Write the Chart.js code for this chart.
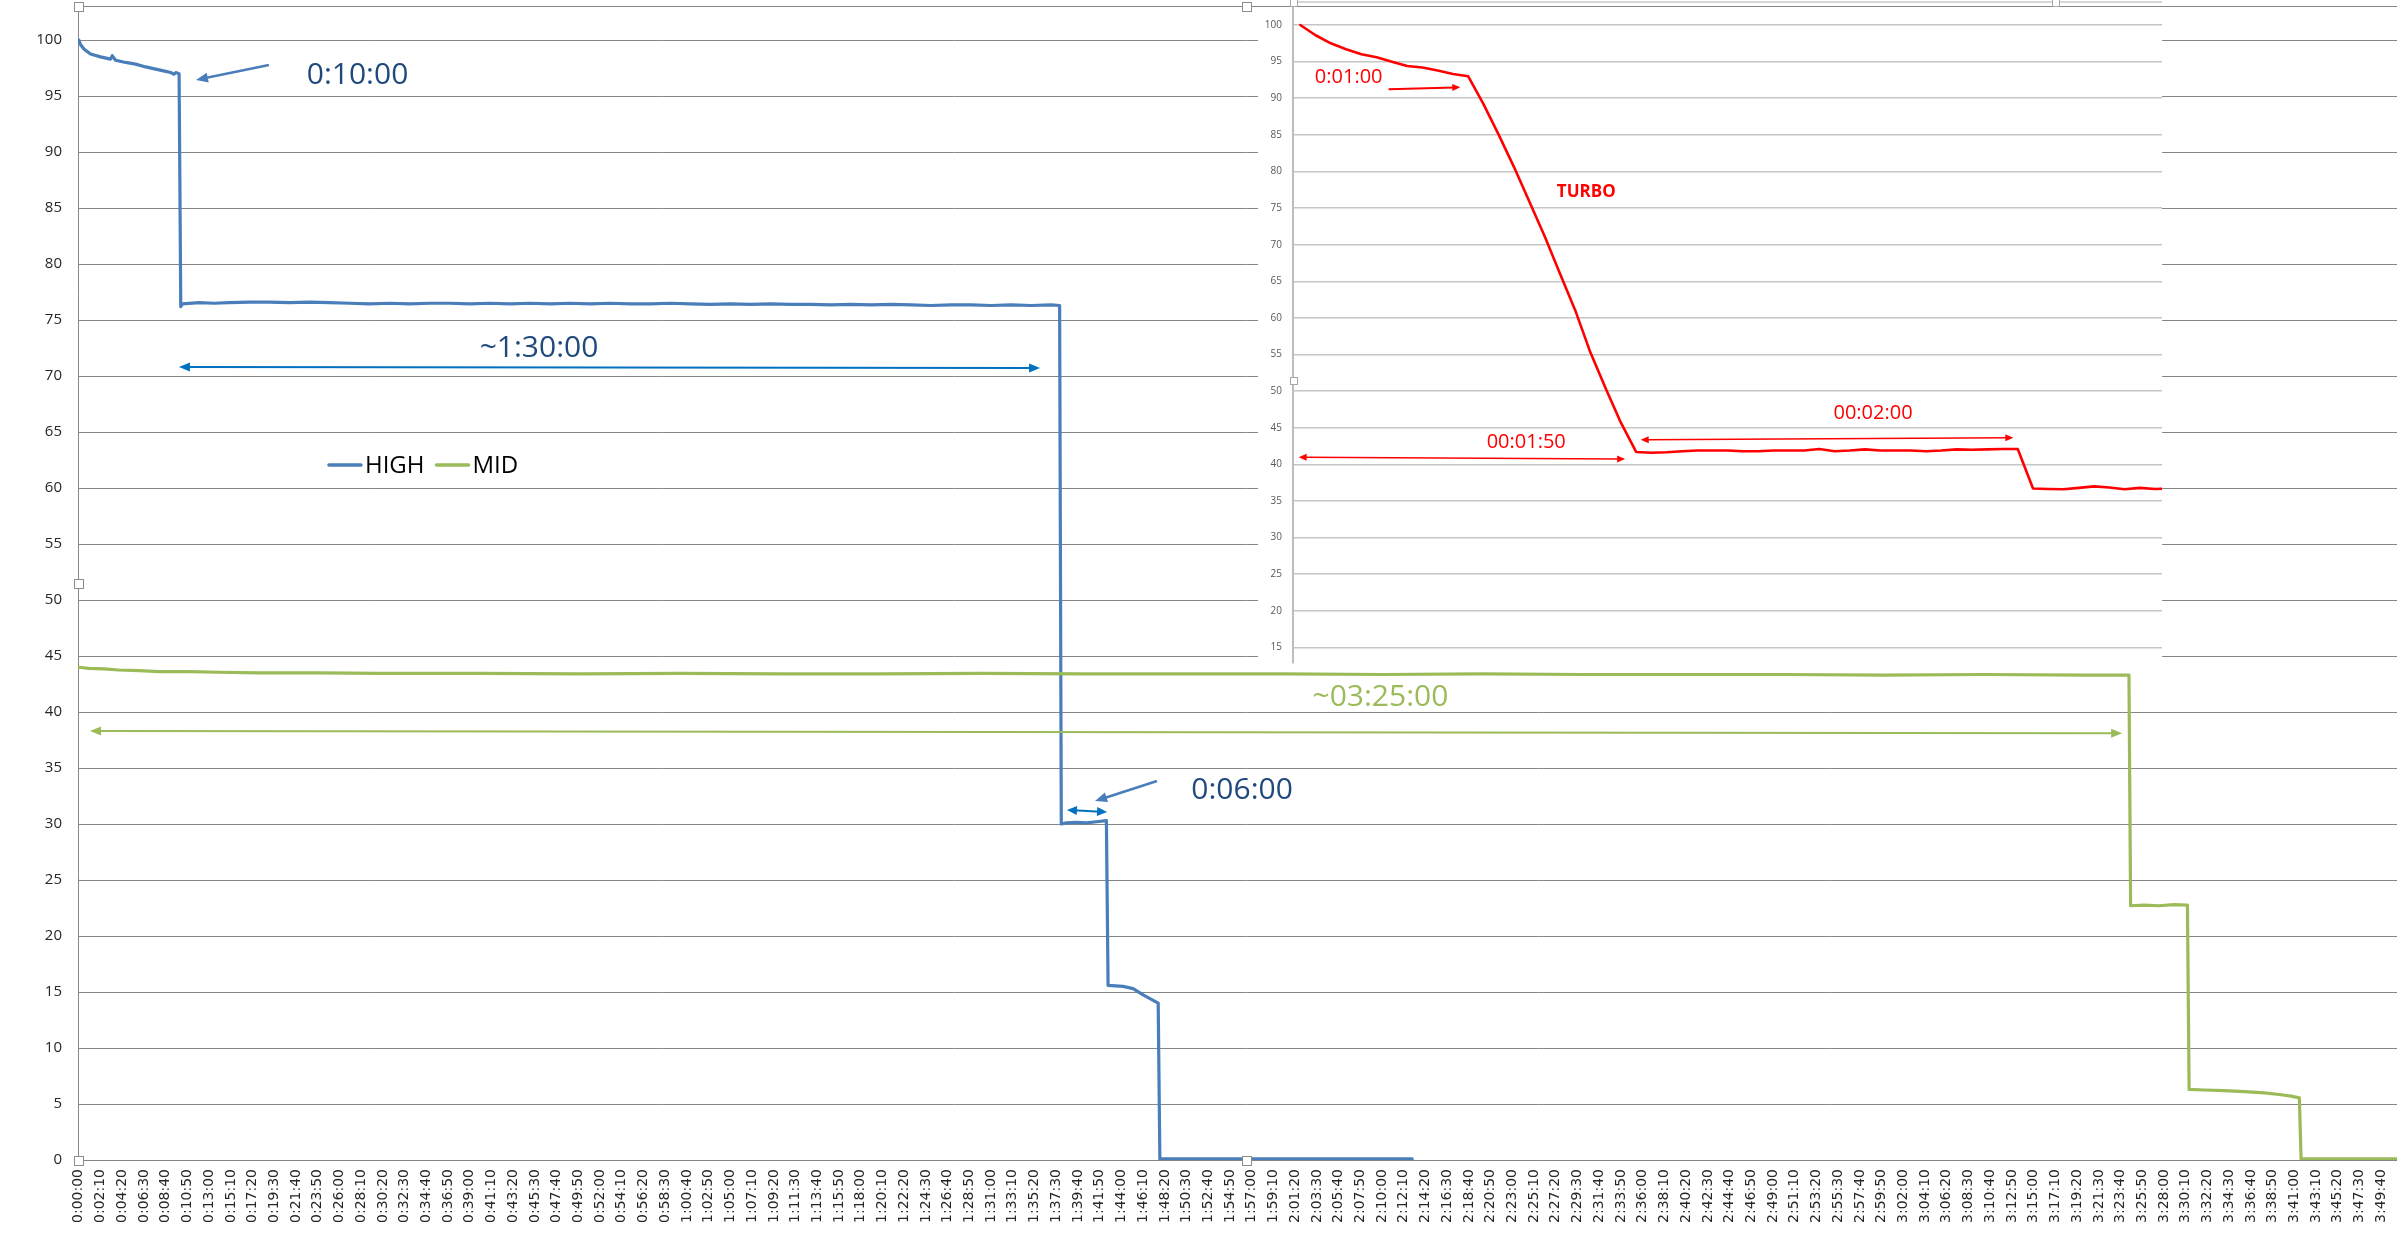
<!DOCTYPE html>
<html><head><meta charset="utf-8">
<script src="https://cdn.jsdelivr.net/npm/chart.js@4.4.1/dist/chart.umd.min.js"></script>
<style>
html,body{margin:0;padding:0;background:#fff;overflow:hidden;width:2397px;height:1241px;position:relative;}
#main{position:absolute;left:0;top:0;display:block;}
#inset{position:absolute;left:1258px;top:0;display:block;}
</style></head><body>
<canvas id="main" width="2414" height="1241"></canvas>
<canvas id="inset" width="904" height="665"></canvas>
<script>
// ---------- DATA ----------
const seriesNames = ['HIGH', 'MID'];
const xTickLabels = ['0:00:00','0:02:10','0:04:20','0:06:30','0:08:40','0:10:50','0:13:00','0:15:10','0:17:20','0:19:30',
'0:21:40','0:23:50','0:26:00','0:28:10','0:30:20','0:32:30','0:34:40','0:36:50','0:39:00','0:41:10',
'0:43:20','0:45:30','0:47:40','0:49:50','0:52:00','0:54:10','0:56:20','0:58:30','1:00:40','1:02:50',
'1:05:00','1:07:10','1:09:20','1:11:30','1:13:40','1:15:50','1:18:00','1:20:10','1:22:20','1:24:30',
'1:26:40','1:28:50','1:31:00','1:33:10','1:35:20','1:37:30','1:39:40','1:41:50','1:44:00','1:46:10',
'1:48:20','1:50:30','1:52:40','1:54:50','1:57:00','1:59:10','2:01:20','2:03:30','2:05:40','2:07:50',
'2:10:00','2:12:10','2:14:20','2:16:30','2:18:40','2:20:50','2:23:00','2:25:10','2:27:20','2:29:30',
'2:31:40','2:33:50','2:36:00','2:38:10','2:40:20','2:42:30','2:44:40','2:46:50','2:49:00','2:51:10',
'2:53:20','2:55:30','2:57:40','2:59:50','3:02:00','3:04:10','3:06:20','3:08:30','3:10:40','3:12:50',
'3:15:00','3:17:10','3:19:20','3:21:30','3:23:40','3:25:50','3:28:00','3:30:10','3:32:20','3:34:30',
'3:36:40','3:38:50','3:41:00','3:43:10','3:45:20','3:47:30','3:49:40','3:51:50'];
const yTicks = [0,5,10,15,20,25,30,35,40,45,50,55,60,65,70,75,80,85,90,95,100];

const highTimes = ['0:00:00','0:00:10','0:00:30','0:01:10','0:02:10','0:03:10','0:03:20','0:03:40','0:04:40','0:05:40',
'0:06:40','0:07:40','0:08:40','0:09:10','0:09:30','0:09:40','0:10:00','0:10:10','0:10:20','0:12:00',
'0:13:30','0:15:00','0:17:00','0:19:00','0:21:00','0:23:00','0:25:00','0:27:00','0:29:00','0:31:00',
'0:33:00','0:35:00','0:37:00','0:39:00','0:41:00','0:43:00','0:45:00','0:47:00','0:49:00','0:51:00',
'0:53:00','0:55:00','0:57:00','0:59:00','1:01:00','1:03:00','1:05:00','1:07:00','1:09:00','1:11:00',
'1:13:00','1:15:00','1:17:00','1:19:00','1:21:00','1:23:00','1:25:00','1:27:00','1:29:00','1:31:00',
'1:33:00','1:35:00','1:37:00','1:37:50','1:38:00','1:38:30','1:39:30','1:40:30','1:41:30','1:42:30',
'1:42:40','1:44:10','1:45:10','1:46:10','1:47:40','1:47:50','2:13:00'];
const highValues = [100,99.6,99.2,98.75,98.5,98.3,98.6,98.2,98.0,97.85,
97.6,97.4,97.2,97.1,96.95,97.1,97.0,76.2,76.45,76.55,
76.5,76.55,76.6,76.6,76.55,76.6,76.55,76.5,76.45,76.5,
76.45,76.5,76.5,76.45,76.5,76.45,76.5,76.45,76.5,76.45,
76.5,76.45,76.45,76.5,76.45,76.4,76.45,76.4,76.45,76.4,
76.4,76.35,76.4,76.35,76.4,76.35,76.3,76.35,76.35,76.3,
76.35,76.3,76.35,76.3,30.0,30.1,30.15,30.1,30.2,30.3,
15.6,15.5,15.3,14.75,14.0,0.1,0.1];

const midTimes = ['0:00:00','0:01:00','0:02:30','0:04:00','0:06:00','0:08:00','0:11:00','0:14:00','0:18:00','0:24:00',
'0:30:00','0:40:00','0:50:00','1:00:00','1:10:00','1:20:00','1:30:00','1:40:00','1:50:00','2:00:00',
'2:10:00','2:20:00','2:30:00','2:40:00','2:50:00','3:00:00','3:10:00','3:20:00','3:24:30','3:24:40',
'3:26:00','3:27:30','3:29:00','3:30:20','3:30:30','3:32:00','3:34:00','3:36:00','3:38:00','3:39:30',
'3:40:40','3:41:30','3:41:40','3:53:00'];
const midValues = [44.0,43.9,43.85,43.75,43.7,43.6,43.6,43.55,43.5,43.5,
43.45,43.45,43.4,43.45,43.4,43.4,43.45,43.4,43.4,43.4,
43.35,43.4,43.35,43.35,43.35,43.3,43.35,43.3,43.3,22.7,
22.75,22.7,22.8,22.75,6.3,6.25,6.2,6.1,6.0,5.85,
5.7,5.55,0.1,0.1];

// inset (TURBO) series, one value per sample
const insetName = 'TURBO';
const insetValues = [100,98.6,97.5,96.7,96.0,95.6,95.0,94.4,94.2,93.8,93.3,93.0,
89.2,85.0,80.6,75.9,71.2,66.1,61.1,55.3,50.4,45.7,41.7,
41.6,41.65,41.8,41.9,41.9,41.9,41.8,41.8,41.9,41.9,41.9,42.1,41.8,41.9,42.05,41.9,41.9,41.9,41.8,41.9,42.05,42.0,42.05,42.1,42.1,
36.7,36.65,36.6,36.8,37.0,36.85,36.6,36.8,36.65,36.7];
const insetYTicks = [15,20,25,30,35,40,45,50,55,60,65,70,75,80,85,90,95,100];

// ---------- ANNOTATIONS (in data coordinates) ----------
const mainAnnotations = [
  {kind:'text', text:'0:10:00', x:1668, y:96.81, color:'#1f497d', font:'30px "Open Sans"'},
  {kind:'arrow', x1:1138, y1:97.77, x2:701, y2:96.43, color:'#4a7ebb', w:2.5, start:false, end:true, hl:12, hw:5},
  {kind:'text', text:'~1:30:00', x:2754, y:72.45, color:'#1f497d', font:'30px "Open Sans"'},
  {kind:'arrow', x1:599, y1:70.8, x2:5753, y2:70.71, color:'#0070c0', w:2, start:true, end:true, hl:11, hw:4.5},
  {kind:'text', text:'0:06:00', x:6962, y:33.04, color:'#1f497d', font:'30px "Open Sans"'},
  {kind:'arrow', x1:6453, y1:33.84, x2:6082, y2:32.05, color:'#4a7ebb', w:2.5, start:false, end:true, hl:12, hw:5},
  {kind:'arrow', x1:5914, y1:31.25, x2:6154, y2:31.07, color:'#0070c0', w:2, start:true, end:true, hl:10, hw:4.5},
  {kind:'text', text:'~03:25:00', x:7790, y:41.34, color:'#9bbb59', font:'30px "Open Sans"'},
  {kind:'arrow', x1:67, y1:38.3, x2:12229, y2:38.1, color:'#9bbb59', w:2, start:true, end:true, hl:11, hw:4.5}
];
const legendAt = {x:1491, y:62.05};
const insetAnnotations = [
  {kind:'text', text:'0:01:00', x:3.17, y:92.86, color:'#ff0000', font:'20px "Open Sans"'},
  {kind:'arrow', x1:5.78, y1:91.22, x2:10.48, y2:91.49, color:'#ff0000', w:2, start:false, end:true, hl:8, hw:3.5},
  {kind:'text', text:'TURBO', x:18.73, y:77.24, color:'#ff0000', font:'bold 17px "Open Sans"'},
  {kind:'text', text:'00:01:50', x:14.8, y:42.97, color:'#ff0000', font:'20px "Open Sans"'},
  {kind:'arrow', x1:-0.11, y1:40.97, x2:21.28, y2:40.74, color:'#ff0000', w:1.6, start:true, end:true, hl:8, hw:3.5},
  {kind:'text', text:'00:02:00', x:37.52, y:47.02, color:'#ff0000', font:'20px "Open Sans"'},
  {kind:'arrow', x1:22.3, y1:43.37, x2:46.71, y2:43.65, color:'#ff0000', w:1.6, start:true, end:true, hl:8, hw:3.5}
];

// ---------- HELPERS ----------
function toSec(s){const p=s.split(':').map(Number);return p[0]*3600+p[1]*60+p[2];}
function head(ctx,x,y,ang,hl,hw){
  const c=Math.cos(ang), s=Math.sin(ang);
  ctx.beginPath();
  ctx.moveTo(x,y);
  ctx.lineTo(x-hl*c+hw*s, y-hl*s-hw*c);
  ctx.lineTo(x-hl*c-hw*s, y-hl*s+hw*c);
  ctx.closePath(); ctx.fill();
}
function drawAnno(ctx,a,xs,ys){
  if(a.kind==='text'){
    ctx.font=a.font; ctx.fillStyle=a.color; ctx.textAlign='center'; ctx.textBaseline='middle';
    ctx.fillText(a.text, xs.getPixelForValue(a.x), ys.getPixelForValue(a.y));
  } else {
    const x1=xs.getPixelForValue(a.x1), y1=ys.getPixelForValue(a.y1);
    const x2=xs.getPixelForValue(a.x2), y2=ys.getPixelForValue(a.y2);
    const ang=Math.atan2(y2-y1,x2-x1), c=Math.cos(ang), s=Math.sin(ang);
    let sx=x1, sy=y1, ex=x2, ey=y2;
    if(a.start){sx+=c*a.hl*0.7; sy+=s*a.hl*0.7;}
    if(a.end){ex-=c*a.hl*0.7; ey-=s*a.hl*0.7;}
    ctx.strokeStyle=a.color; ctx.fillStyle=a.color; ctx.lineWidth=a.w; ctx.lineCap='butt';
    ctx.beginPath(); ctx.moveTo(sx,sy); ctx.lineTo(ex,ey); ctx.stroke();
    if(a.end) head(ctx,x2,y2,ang,a.hl,a.hw);
    if(a.start) head(ctx,x1,y1,ang+Math.PI,a.hl,a.hw);
  }
}
function handle(ctx,cx,cy,sz,stroke){
  const x=Math.round(cx-sz/2)+0.5, y=Math.round(cy-sz/2)+0.5;
  ctx.fillStyle='#ffffff'; ctx.fillRect(x,y,sz,sz);
  ctx.strokeStyle=stroke; ctx.lineWidth=1; ctx.strokeRect(x,y,sz,sz);
}

// ---------- MAIN CHART ----------
const mainDeco = {
  id:'mainDeco',
  afterDraw(chart){
    const {ctx, chartArea:ca} = chart; const xs=chart.scales.x, ys=chart.scales.y;
    ctx.save();
    ctx.strokeStyle='#868686'; ctx.lineWidth=1;
    ctx.beginPath(); ctx.moveTo(ca.left, Math.round(ca.top)+0.5); ctx.lineTo(ca.right, Math.round(ca.top)+0.5); ctx.stroke();
    mainAnnotations.forEach(a=>drawAnno(ctx,a,xs,ys));
    // legend
    let lx=xs.getPixelForValue(legendAt.x); const ly=ys.getPixelForValue(legendAt.y);
    ctx.font='24px "Open Sans"'; ctx.textAlign='left'; ctx.textBaseline='middle';
    chart.data.datasets.forEach(ds=>{
      ctx.strokeStyle=ds.borderColor; ctx.lineWidth=3.5; ctx.lineCap='round';
      ctx.beginPath(); ctx.moveTo(lx+1,ly); ctx.lineTo(lx+33,ly); ctx.stroke();
      lx+=37;
      ctx.fillStyle='#000000'; ctx.fillText(ds.label, lx, ly+1);
      lx+=ctx.measureText(ds.label).width+11;
    });
    // selection handles
    const mx=(ca.left+ca.right)/2, my=(ca.top+ca.bottom)/2;
    [[ca.left,ca.top],[mx,ca.top],[ca.left,my],[ca.left,ca.bottom],[mx,ca.bottom]].forEach(p=>handle(ctx,p[0],p[1],9,'#8c8c8c'));
    ctx.restore();
  }
};

new Chart(document.getElementById('main'), {
  type:'line',
  data:{datasets:[
    {label:seriesNames[0], data:highTimes.map((t,i)=>({x:toSec(t), y:highValues[i]})),
     borderColor:'#4a7ebb', backgroundColor:'#4a7ebb', borderWidth:3.2, pointRadius:0, tension:0, order:2,
     borderJoinStyle:'round', borderCapStyle:'round', fill:false},
    {label:seriesNames[1], data:midTimes.map((t,i)=>({x:toSec(t), y:midValues[i]})),
     borderColor:'#9bbb59', backgroundColor:'#9bbb59', borderWidth:3.2, pointRadius:0, tension:0, order:1,
     borderJoinStyle:'round', borderCapStyle:'round', fill:false}
  ]},
  options:{
    responsive:false, animation:false, devicePixelRatio:1, events:[],
    layout:{padding:{top:6,right:0,bottom:0,left:0}},
    plugins:{legend:{display:false}, tooltip:{enabled:false}, title:{display:false}},
    scales:{
      x:{type:'linear', min:-5, max:13976,
        afterBuildTicks:s=>{s.ticks=xTickLabels.map(l=>({value:toSec(l)}));},
        afterFit:s=>{s.height=81; s.paddingLeft=0; s.paddingRight=0;},
        grid:{display:false, drawTicks:false},
        border:{display:true, color:'#868686', width:1},
        ticks:{autoSkip:false, maxRotation:90, minRotation:90, padding:9,
          font:{family:'DejaVu Sans', size:14}, color:'#262626',
          callback:(v,i)=>xTickLabels[i]}
      },
      y:{type:'linear', min:0, max:103.04,
        afterBuildTicks:s=>{s.ticks=yTicks.map(v=>({value:v}));},
        afterFit:s=>{s.width=78; s.paddingTop=0; s.paddingBottom=0;},
        grid:{color:'#868686', lineWidth:1, drawTicks:false},
        border:{display:true, color:'#868686', width:1},
        ticks:{padding:16, font:{family:'Open Sans', size:15}, color:'#262626', callback:v=>String(v)}
      }
    }
  },
  plugins:[mainDeco]
});

// ---------- INSET CHART ----------
const insetDeco = {
  id:'insetDeco',
  beforeDraw(chart){
    const {ctx, chartArea:ca, width, height} = chart;
    ctx.save(); ctx.fillStyle='#ffffff'; ctx.fillRect(0, ca.top, width, height-ca.top); ctx.restore();
  },
  afterDraw(chart){
    const {ctx, chartArea:ca, width} = chart; const xs=chart.scales.x, ys=chart.scales.y;
    ctx.save();
    ctx.strokeStyle='#c8c8c8'; ctx.lineWidth=1.5;
    ctx.beginPath(); ctx.moveTo(ca.left, 2); ctx.lineTo(width, 2); ctx.stroke();
    ctx.beginPath(); ctx.moveTo(ca.left, 0); ctx.lineTo(ca.left, ca.top); ctx.stroke();
    insetAnnotations.forEach(a=>drawAnno(ctx,a,xs,ys));
    [[ca.left,2],[ca.left,380],[ca.left+762,2]].forEach(p=>handle(ctx,p[0],p[1],7,'#a6a6a6'));
    ctx.restore();
  }
};

new Chart(document.getElementById('inset'), {
  type:'line',
  data:{datasets:[
    {label:insetName, data:insetValues.map((v,i)=>({x:i, y:v})),
     borderColor:'#ff0000', backgroundColor:'#ff0000', borderWidth:2.6, pointRadius:0, tension:0,
     borderJoinStyle:'round', borderCapStyle:'round', fill:false}
  ]},
  options:{
    responsive:false, animation:false, devicePixelRatio:1, events:[],
    layout:{padding:{top:7,right:0,bottom:2,left:0}},
    plugins:{legend:{display:false}, tooltip:{enabled:false}},
    scales:{
      x:{type:'linear', min:-0.48, max:56.45, display:false},
      y:{type:'linear', min:12.88, max:102.46,
        afterBuildTicks:s=>{s.ticks=insetYTicks.map(v=>({value:v}));},
        afterFit:s=>{s.width=35; s.paddingTop=0; s.paddingBottom=0;},
        grid:{color:'#c6c6c6', lineWidth:1.5, drawTicks:false},
        border:{display:true, color:'#bdbdbd', width:2},
        ticks:{padding:11, font:{family:'Open Sans', size:10}, color:'#595959', callback:v=>String(v)}
      }
    }
  },
  plugins:[insetDeco]
});
</script>
</body></html>
